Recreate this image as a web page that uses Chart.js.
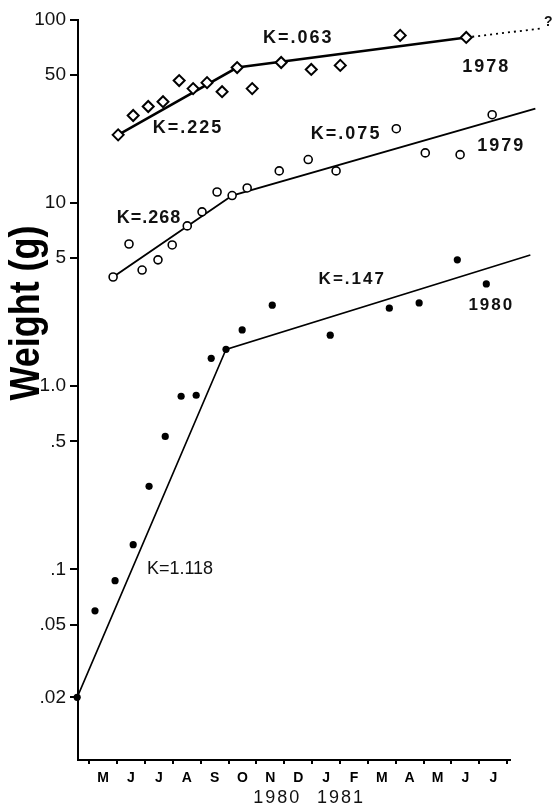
<!DOCTYPE html>
<html>
<head>
<meta charset="utf-8">
<script src="https://cdn.jsdelivr.net/npm/chart.js@4.4.1/dist/chart.umd.min.js"></script>
<style>
  html, body { margin: 0; padding: 0; background: #fff; }
  #wrap { width: 552px; height: 809px; }
</style>
</head>
<body>
<div id="wrap"><canvas id="chart"></canvas></div>
<script>
const monthLabels = ["M", "J", "J", "A", "S", "O", "N", "D", "J", "F", "M", "A", "M", "J", "J"];
const yTickValues = [100, 50, 10, 5, 1, 0.5, 0.1, 0.05, 0.02];
const yTickLabels = ["100", "50", "10", "5", "1.0", ".5", ".1", ".05", ".02"];

// month index 0 = May 1980
const months1978 = [0.54, 1.08, 1.62, 2.15, 2.73, 3.23, 3.73, 4.27, 4.81, 5.35, 6.39, 7.47, 8.51, 10.66, 13.03];
const weights1978 = [23.6, 30.1, 33.7, 35.8, 46.7, 42.2, 45.5, 40.6, 55.0, 42.2, 58.6, 53.7, 56.5, 82.4, 80.3];
const fitMonths1978 = [0.54, 4.81, 13.03];
const fitWeights1978 = [23.6, 55.0, 80.3];
const extMonths1978 = [13.03, 15.72];
const extWeights1978 = [80.3, 89.9];

const months1979 = [0.36, 0.93, 1.40, 1.97, 2.48, 3.02, 3.55, 4.09, 4.63, 5.17, 6.32, 7.36, 8.36, 10.52, 11.56, 12.81, 13.96, 15.51];
const weights1979 = [3.95, 5.98, 4.31, 4.90, 5.91, 7.51, 8.96, 11.5, 11.0, 12.1, 15.0, 17.3, 15.0, 25.5, 18.8, 18.4, 30.4, 32.8];
const fitMonths1979 = [0.36, 4.63, 15.51];
const fitWeights1979 = [3.95, 11.0, 32.8];

const months1980 = [-0.93, -0.29, 0.43, 1.08, 1.65, 2.23, 2.80, 3.34, 3.88, 4.41, 4.99, 6.07, 8.15, 10.27, 11.34, 12.71, 13.75, 15.33];
const weights1980 = [0.02, 0.0594, 0.0867, 0.1365, 0.284, 0.532, 0.882, 0.893, 1.42, 1.59, 2.03, 2.77, 1.90, 2.67, 2.85, 4.90, 3.62, 5.21];
const fitMonths1980 = [-0.93, 4.41, 15.33];
const fitWeights1980 = [0.02, 1.59, 5.21];

// text labels placed in data coordinates
const notes = [
  { text: "K=.063", m: 7.0, w: 79.3, font: "bold 18px 'Liberation Sans'", spacing: "2px" },
  { text: "K=.225", m: 3.05, w: 25.8, font: "bold 18px 'Liberation Sans'", spacing: "2px" },
  { text: "K=.268", m: 1.65, w: 8.31, font: "bold 18px 'Liberation Sans'", spacing: "1px" },
  { text: "K=.075", m: 8.72, w: 23.9, font: "bold 18px 'Liberation Sans'", spacing: "2px" },
  { text: "K=.147", m: 8.94, w: 3.85, font: "bold 17px 'Liberation Sans'", spacing: "2px" },
  { text: "K=1.118", m: 2.76, w: 0.101, font: "18px 'Liberation Sans'", spacing: "0px" },
  { text: "1978", m: 13.75, w: 55.7, font: "bold 18px 'Liberation Sans'", spacing: "2px" },
  { text: "1979", m: 14.29, w: 20.6, font: "bold 18px 'Liberation Sans'", spacing: "2px" },
  { text: "1980", m: 13.93, w: 2.78, font: "bold 17px 'Liberation Sans'", spacing: "2px" },
  { text: "?", m: 15.97, w: 97, font: "bold 14px 'Liberation Sans'", spacing: "0px" }
];
const yearLabels = ["1980", "1981"];
const yearPositions = [6.25, 8.54];

const toPoints = (xs, ys) => xs.map((v, i) => ({ x: v, y: ys[i] }));

const annotate = {
  id: "annotate",
  afterDraw(chart) {
    const { ctx, chartArea } = chart;
    const x = chart.scales.x, y = chart.scales.y;
    ctx.save();
    ctx.fillStyle = "#111";
    ctx.textAlign = "center";
    ctx.textBaseline = "middle";
    notes.forEach(n => {
      ctx.font = n.font;
      ctx.letterSpacing = n.spacing;
      ctx.fillText(n.text, x.getPixelForValue(n.m), y.getPixelForValue(n.w));
    });
    ctx.font = "18px 'Liberation Sans'";
    ctx.letterSpacing = "2px";
    yearLabels.forEach((t, i) => {
      ctx.fillText(t, x.getPixelForValue(yearPositions[i]), chartArea.bottom + 38);
    });
    // axis title
    ctx.letterSpacing = "0px";
    ctx.font = "bold 42px 'Liberation Sans'";
    const title = "Weight (g)";
    const tw = ctx.measureText(title).width;
    ctx.translate(27, 313);
    ctx.rotate(-Math.PI / 2);
    ctx.scale(175 / tw, 1);
    ctx.fillStyle = "#000";
    ctx.fillText(title, 0, 0);
    ctx.restore();
  }
};

new Chart(document.getElementById("chart"), {
  type: "scatter",
  data: {
    datasets: [
      {
        label: "1978",
        data: toPoints(months1978, weights1978),
        pointStyle: "rectRot",
        pointRadius: 5.5,
        borderWidth: 2,
        borderColor: "#000",
        backgroundColor: "#fff",
        clip: false
      },
      {
        label: "1979",
        data: toPoints(months1979, weights1979),
        pointStyle: "circle",
        pointRadius: 4,
        borderWidth: 1.6,
        borderColor: "#000",
        backgroundColor: "#fff",
        clip: false
      },
      {
        label: "1980",
        data: toPoints(months1980, weights1980),
        pointStyle: "circle",
        pointRadius: 3.6,
        borderWidth: 0,
        borderColor: "#000",
        backgroundColor: "#000",
        clip: false
      },
      {
        label: "fit 1978",
        data: toPoints(fitMonths1978, fitWeights1978),
        showLine: true,
        pointRadius: 0,
        borderWidth: 2.5,
        borderColor: "#000",
        clip: false
      },
      {
        label: "extension 1978",
        data: toPoints(extMonths1978, extWeights1978),
        showLine: true,
        pointRadius: 0,
        borderWidth: 1.8,
        borderDash: [2, 4],
        borderColor: "#000",
        clip: false
      },
      {
        label: "fit 1979",
        data: toPoints(fitMonths1979, fitWeights1979),
        showLine: true,
        pointRadius: 0,
        borderWidth: 2,
        borderColor: "#000",
        clip: false
      },
      {
        label: "fit 1980",
        data: toPoints(fitMonths1980, fitWeights1980),
        showLine: true,
        pointRadius: 0,
        borderWidth: 1.6,
        borderColor: "#000",
        clip: false
      }
    ]
  },
  options: {
    responsive: true,
    maintainAspectRatio: false,
    animation: false,
    layout: { padding: { top: 20, right: 42, bottom: 0, left: 0 } },
    plugins: {
      legend: { display: false },
      tooltip: { enabled: false }
    },
    scales: {
      x: {
        type: "linear",
        min: -0.9,
        max: 14.6,
        afterBuildTicks: scale => {
          const t = [];
          for (let v = -0.5; v <= 14.5; v += 0.5) t.push({ value: v });
          scale.ticks = t;
        },
        afterFit: scale => { scale.height = 49; },
        ticks: {
          autoSkip: false,
          maxRotation: 0,
          padding: 6,
          color: "#000",
          font: { family: "'Liberation Sans'", size: 14, weight: "bold" },
          callback: value => Number.isInteger(value) ? monthLabels[value] : ""
        },
        grid: {
          drawOnChartArea: false,
          tickLength: 4,
          lineWidth: 2,
          color: ctx => (ctx.tick && Number.isInteger(ctx.tick.value)) ? "rgba(0,0,0,0)" : "#000"
        },
        border: { color: "#000", width: 2 }
      },
      y: {
        type: "logarithmic",
        min: 0.0091,
        max: 100,
        bounds: "data",
        afterBuildTicks: scale => {
          scale.ticks = yTickValues.map(v => ({ value: v }));
        },
        afterFit: scale => { scale.width = 78; },
        ticks: {
          autoSkip: false,
          padding: 4,
          color: "#111",
          font: { family: "'Liberation Sans'", size: 19 },
          callback: value => yTickLabels[yTickValues.indexOf(value)]
        },
        grid: {
          drawOnChartArea: false,
          tickLength: 8,
          lineWidth: 2,
          color: "#000"
        },
        border: { color: "#000", width: 2 }
      }
    }
  },
  plugins: [annotate]
});
</script>
</body>
</html>
